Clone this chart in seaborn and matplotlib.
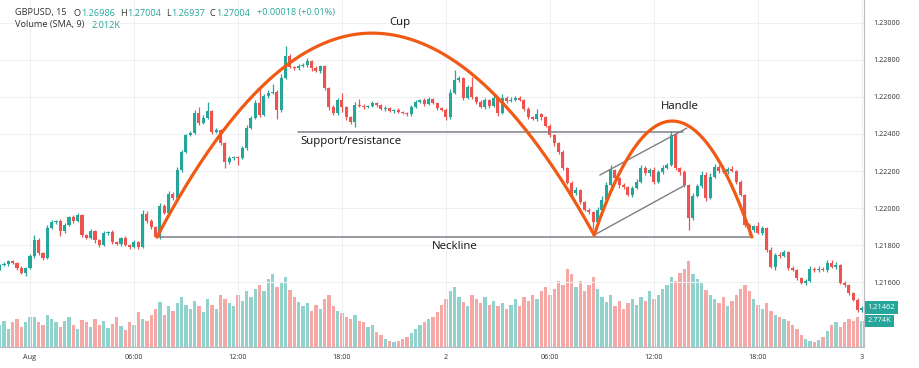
import numpy as np
import matplotlib
matplotlib.use('Agg')
import matplotlib.pyplot as plt
import seaborn as sns

# --- GBPUSD 15 min candles (index 0 = 1 Aug 00:00) ---
first_open = 1.21676
closes = [
    1.21692, 1.21697, 1.21713, 1.21703, 1.21676, 1.21648, 1.21676, 1.21740, 1.21827, 1.21757,
    1.21730, 1.21892, 1.21924, 1.21930, 1.21875, 1.21908, 1.21951, 1.21930, 1.21962, 1.21854,
    1.21838, 1.21875, 1.21827, 1.21800, 1.21865, 1.21870, 1.21816, 1.21805, 1.21838, 1.21800,
    1.21789, 1.21816, 1.21789, 1.21967, 1.21930, 1.21897, 1.21843, 1.22011, 1.21973, 1.22075,
    1.22054, 1.22205, 1.22302, 1.22394, 1.22405, 1.22513, 1.22459, 1.22486, 1.22524, 1.22411,
    1.22421, 1.22351, 1.22248, 1.22270, 1.22275, 1.22270, 1.22324, 1.22432, 1.22486, 1.22567,
    1.22502, 1.22605, 1.22621, 1.22627, 1.22529, 1.22702, 1.22821, 1.22762, 1.22757, 1.22767,
    1.22773, 1.22794, 1.22757, 1.22740, 1.22767, 1.22648, 1.22546, 1.22513, 1.22584, 1.22546,
    1.22492, 1.22465, 1.22557, 1.22551, 1.22546, 1.22551, 1.22567, 1.22557, 1.22535, 1.22540,
    1.22524, 1.22529, 1.22519, 1.22513, 1.22508, 1.22546, 1.22573, 1.22584, 1.22562, 1.22589,
    1.22567, 1.22540, 1.22529, 1.22492, 1.22621, 1.22692, 1.22702, 1.22594, 1.22654, 1.22600,
    1.22573, 1.22546, 1.22584, 1.22551, 1.22594, 1.22513, 1.22594, 1.22578, 1.22584, 1.22594,
    1.22584, 1.22535, 1.22492, 1.22481, 1.22508, 1.22492, 1.22443, 1.22394, 1.22351, 1.22302,
    1.22216, 1.22135, 1.22081, 1.22097, 1.22032, 1.21989, 1.21978, 1.21924, 1.21989, 1.22043,
    1.22124, 1.22205, 1.22162, 1.22124, 1.22113, 1.22070, 1.22108, 1.22140, 1.22216, 1.22189,
    1.22205, 1.22140, 1.22194, 1.22216, 1.22232, 1.22394, 1.22216, 1.22194, 1.22124, 1.21946,
    1.22065, 1.22119, 1.22178, 1.22054, 1.22167, 1.22221, 1.22200, 1.22194, 1.22211, 1.22200,
    1.22140, 1.22070, 1.21908, 1.21881, 1.21903, 1.21865, 1.21892, 1.21773, 1.21681, 1.21746,
    1.21740, 1.21762, 1.21676, 1.21665, 1.21621, 1.21594, 1.21605, 1.21670, 1.21665, 1.21670,
    1.21665, 1.21703, 1.21681, 1.21692, 1.21594, 1.21584, 1.21540, 1.21503, 1.21448, 1.21462,
]
# wick lengths beyond the body, in half pips
wick_up = [
    1, 2, 1, 1, 1, 2, 1, 2, 5, 2,
    1, 3, 2, 1, 2, 2, 1, 2, 2, 1,
    1, 2, 1, 1, 2, 1, 2, 1, 1, 2,
    1, 2, 1, 4, 3, 2, 1, 3, 2, 3,
    2, 3, 2, 1, 2, 3, 7, 3, 10, 1,
    2, 1, 1, 2, 1, 1, 2, 3, 2, 3,
    17, 2, 3, 9, 2, 4, 11, 2, 1, 2,
    2, 3, 1, 2, 1, 1, 1, 2, 2, 7,
    1, 1, 3, 6, 2, 1, 2, 1, 1, 2,
    1, 1, 2, 1, 1, 2, 2, 1, 2, 2,
    1, 1, 1, 2, 4, 11, 2, 1, 2, 11,
    1, 2, 2, 1, 3, 1, 4, 2, 3, 2,
    2, 1, 2, 1, 5, 1, 1, 2, 1, 1,
    2, 1, 2, 3, 1, 1, 2, 1, 3, 4,
    3, 5, 1, 1, 2, 1, 2, 3, 3, 2,
    2, 3, 2, 3, 2, 4, 2, 1, 2, 1,
    3, 2, 4, 3, 4, 3, 2, 6, 2, 3,
    1, 2, 1, 2, 1, 4, 2, 1, 3, 2,
    3, 2, 1, 2, 1, 1, 2, 3, 2, 3,
    2, 3, 3, 3, 1, 2, 1, 1, 2, 2,
]
wick_down = [
    2, 1, 2, 1, 2, 1, 3, 1, 2, 2,
    2, 1, 1, 2, 5, 2, 1, 2, 1, 2,
    1, 1, 3, 2, 1, 2, 2, 1, 2, 1,
    2, 1, 2, 1, 2, 2, 1, 2, 1, 1,
    2, 1, 2, 1, 1, 1, 2, 1, 1, 2,
    1, 2, 6, 2, 2, 7, 1, 2, 1, 1,
    2, 1, 2, 1, 10, 2, 1, 1, 2, 2,
    1, 2, 3, 1, 2, 2, 3, 2, 2, 5,
    3, 2, 5, 1, 2, 1, 1, 2, 1, 2,
    1, 2, 1, 1, 2, 2, 1, 1, 2, 1,
    1, 2, 1, 3, 2, 1, 2, 2, 1, 2,
    2, 1, 2, 2, 1, 3, 1, 2, 1, 1,
    1, 2, 2, 1, 2, 3, 1, 2, 3, 2,
    2, 1, 3, 2, 2, 1, 2, 7, 2, 1,
    2, 1, 2, 3, 2, 1, 2, 1, 1, 2,
    3, 2, 1, 2, 1, 1, 2, 3, 2, 13,
    2, 1, 2, 3, 1, 1, 2, 1, 2, 1,
    2, 1, 2, 5, 2, 1, 2, 2, 1, 3,
    2, 1, 2, 1, 2, 1, 2, 1, 2, 2,
    1, 2, 1, 2, 1, 2, 2, 1, 2, 2,
]
volume_k = [
    2.3, 2.8, 1.9, 2.6, 3.0, 2.1, 2.7, 3.2, 3.2, 2.7,
    2.3, 3.4, 3.0, 2.6, 2.1, 2.8, 3.2, 2.3, 1.9, 2.9,
    2.6, 2.1, 3.0, 2.3, 2.8, 2.0, 2.4, 3.2, 2.2, 1.8,
    2.7, 2.3, 3.7, 3.0, 2.8, 3.4, 4.0, 4.8, 3.4, 4.3,
    3.8, 4.7, 5.3, 4.5, 4.0, 4.9, 4.3, 3.7, 5.1, 4.5,
    4.0, 5.5, 5.1, 4.7, 4.3, 5.5, 4.9, 5.9, 5.3, 6.2,
    6.6, 5.9, 7.2, 7.7, 6.4, 6.8, 7.4, 6.0, 5.3, 4.8,
    4.3, 4.7, 3.8, 4.5, 4.0, 5.1, 5.5, 4.3, 3.8, 3.6,
    3.2, 3.0, 3.4, 2.8, 2.6, 2.1, 2.3, 1.6, 1.3, 0.9,
    0.6, 0.5, 0.6, 0.9, 1.1, 1.5, 1.9, 2.3, 2.7, 3.0,
    3.2, 3.7, 4.5, 5.1, 5.9, 6.4, 5.3, 4.8, 4.3, 5.5,
    5.1, 4.7, 5.3, 4.5, 4.9, 4.3, 4.7, 4.0, 4.5, 5.1,
    4.3, 5.3, 4.9, 5.5, 5.1, 5.9, 6.4, 5.5, 6.2, 7.0,
    6.6, 8.3, 7.7, 6.4, 7.0, 5.9, 6.6, 7.4, 6.2, 5.3,
    4.8, 5.5, 4.3, 4.9, 4.0, 4.7, 5.1, 4.5, 5.3, 4.9,
    5.9, 5.1, 5.5, 6.2, 6.6, 7.4, 7.0, 7.9, 8.3, 9.1,
    7.7, 7.2, 6.8, 6.0, 5.5, 5.1, 4.7, 5.3, 4.3, 4.9,
    5.5, 6.2, 6.6, 5.9, 5.1, 4.5, 4.0, 4.7, 3.8, 3.4,
    3.2, 3.0, 2.8, 2.3, 1.9, 1.3, 0.9, 0.6, 0.5, 0.7,
    1.1, 1.7, 2.3, 2.7, 2.1, 2.6, 3.0, 2.8, 3.2, 2.774,
]
first_index = -7   # first visible candle is 31 Jul 22:15

tick_pos = [0, 24, 48, 72, 96, 120, 144, 168, 192]
tick_labels = ['Aug', '06:00', '12:00', '18:00', '2', '06:00', '12:00', '18:00', '3']
price_ticks = [1.216, 1.218, 1.220, 1.222, 1.224, 1.226, 1.228, 1.230]

# pattern drawing anchors (candle index, price)
cup_pts = [(29.3, 1.21843), (78.9, 1.22945), (130.2, 1.21854)]
handle_pts = [(130.2, 1.21854), (148.2, 1.22470), (166.6, 1.21843)]
neckline = (29.3, 166.6, 1.21843)
support = (61.8, 150.7, 1.22411)
channel_top = [(131.5, 1.22178), (151.6, 1.22432)]
channel_bottom = [(130.2, 1.21854), (151.2, 1.22124)]

UP = '#26a69a'
DOWN = '#ef5350'
ORANGE = '#f05a14'
LINE_GRAY = '#7d7f86'
TEXT = '#333333'

sns.set_style('white')
plt.rcParams['font.family'] = ['Open Sans', 'DejaVu Sans']

# --- build OHLC ---
closes = np.array(closes)
opens = np.concatenate([[first_open], closes[:-1]])
pip = 0.0001
highs = np.maximum(opens, closes) + np.array(wick_up) * pip * 0.5
lows = np.minimum(opens, closes) - np.array(wick_down) * pip * 0.5
idx = np.arange(len(closes)) + first_index
is_up = closes >= opens
colors = np.where(is_up, UP, DOWN)
vol_colors = [(0.149, 0.651, 0.604, 0.5) if u else (0.937, 0.325, 0.314, 0.5) for u in is_up]

fig = plt.figure(figsize=(9.2, 3.68), dpi=100)
ax = fig.add_axes([0, 21 / 368, 864 / 920, 347 / 368])
ax2 = ax.twinx()
ax.set_zorder(2)
ax.patch.set_visible(False)
ax2.set_zorder(1)

# volume overlay
ax2.bar(idx, volume_k, width=0.72, color=vol_colors, linewidth=0)
ax2.set_ylim(0, 36.8)
ax2.set_yticks([])
for s in ax2.spines.values():
    s.set_visible(False)

# candles
body_h = np.maximum(np.abs(closes - opens), 0.00002)
ax.vlines(idx, lows, highs, colors=colors, linewidth=0.9, zorder=3)
ax.bar(idx, body_h, bottom=np.minimum(opens, closes), width=0.7, color=colors,
       linewidth=0, zorder=4)


def arc(pts, n=120):
    (x0, y0), (xp, yp), (x1, y1) = pts
    xl = np.linspace(x0, xp, n)
    xr = np.linspace(xp, x1, n)
    yl = yp - (yp - y0) * ((xl - xp) / (x0 - xp)) ** 2
    yr = yp - (yp - y1) * ((xr - xp) / (x1 - xp)) ** 2
    return np.concatenate([xl, xr[1:]]), np.concatenate([yl, yr[1:]])


# pattern lines
ax.plot([neckline[0], neckline[1]], [neckline[2]] * 2, color=LINE_GRAY, lw=1.1, zorder=5)
ax.plot([support[0], support[1]], [support[2]] * 2, color=LINE_GRAY, lw=1.1, zorder=5)
for seg in (channel_top, channel_bottom):
    ax.plot([seg[0][0], seg[1][0]], [seg[0][1], seg[1][1]], color=LINE_GRAY, lw=1.0, zorder=5)

for pts in (cup_pts, handle_pts):
    ax_x, ax_y = arc(pts)
    sns.lineplot(x=ax_x, y=ax_y, ax=ax, color=ORANGE, linewidth=2.3, estimator=None,
                 sort=False, zorder=6)

lab = dict(fontsize=8.2, color='#111111', zorder=7)
ax.text(85.4, 1.23005, 'Cup', ha='center', va='center', **lab)
ax.text(150.0, 1.22551, 'Handle', ha='center', va='center', **lab)
ax.text(62.3, 1.22362, 'Support/resistance', ha='left', va='center', **lab)
ax.text(98.1, 1.21794, 'Neckline', ha='center', va='center', **lab)

# axes styling
ax.set_xlim(-6.92, 192.47)
ax.set_ylim(1.21249, 1.23124)
ax2.set_xlim(-6.92, 192.47)
ax.set_xticks(tick_pos)
ax.set_xticklabels(tick_labels)
ax.set_yticks(price_ticks)
ax.set_yticklabels([f'{p:.5f}' for p in price_ticks])
ax.yaxis.tick_right()
ax.tick_params(axis='both', length=0, labelsize=5.2, labelcolor=TEXT)
ax.tick_params(axis='y', pad=7)
ax.tick_params(axis='x', pad=5)
ax.grid(True, color='#eef0f4', linewidth=0.8)
ax.set_axisbelow(True)
for name, s in ax.spines.items():
    s.set_visible(name in ('right', 'bottom'))
    s.set_color('#b8bbc2')
    s.set_linewidth(0.8)

# last value tags on the price scale
ax.annotate('1.21462', xy=(1, closes[-1]), xycoords=('axes fraction', 'data'),
            xytext=(2.5, 0), textcoords='offset points', ha='left', va='center',
            fontsize=5.4, color='white', zorder=10, annotation_clip=False,
            bbox=dict(boxstyle='square,pad=0.35', fc=UP, ec='none'))
ax2.annotate('2.774K', xy=(1, volume_k[-1]), xycoords=('axes fraction', 'data'),
             xytext=(2.5, 0), textcoords='offset points', ha='left', va='center',
             fontsize=5.4, color='white', zorder=10, annotation_clip=False,
             bbox=dict(boxstyle='square,pad=0.35', fc=UP, ec='none'))

# header legend: pieces laid out one after another (text, colour, gap after in px)
renderer = fig.canvas.get_renderer()


def text_row(x_px, y_px, parts, size=6.6):
    for s, c, gap in parts:
        t = fig.text(x_px / 920, 1 - y_px / 368, s, color=c, fontsize=size,
                     va='center', ha='left')
        x_px += t.get_window_extent(renderer).width + gap


text_row(15, 13, [('GBPUSD, 15', TEXT, 7), ('O', TEXT, 0.5), ('1.26986', UP, 5),
                  ('H', TEXT, 0.5), ('1.27004', UP, 5), ('L', TEXT, 0.5),
                  ('1.26937', UP, 5), ('C', TEXT, 0.5), ('1.27004', UP, 7),
                  ('+0.00018 (+0.01%)', UP, 0)])
text_row(15, 25, [('Volume (SMA, 9)', TEXT, 7), ('2.012K', UP, 0)])

fig.savefig('out.png', dpi=100)
